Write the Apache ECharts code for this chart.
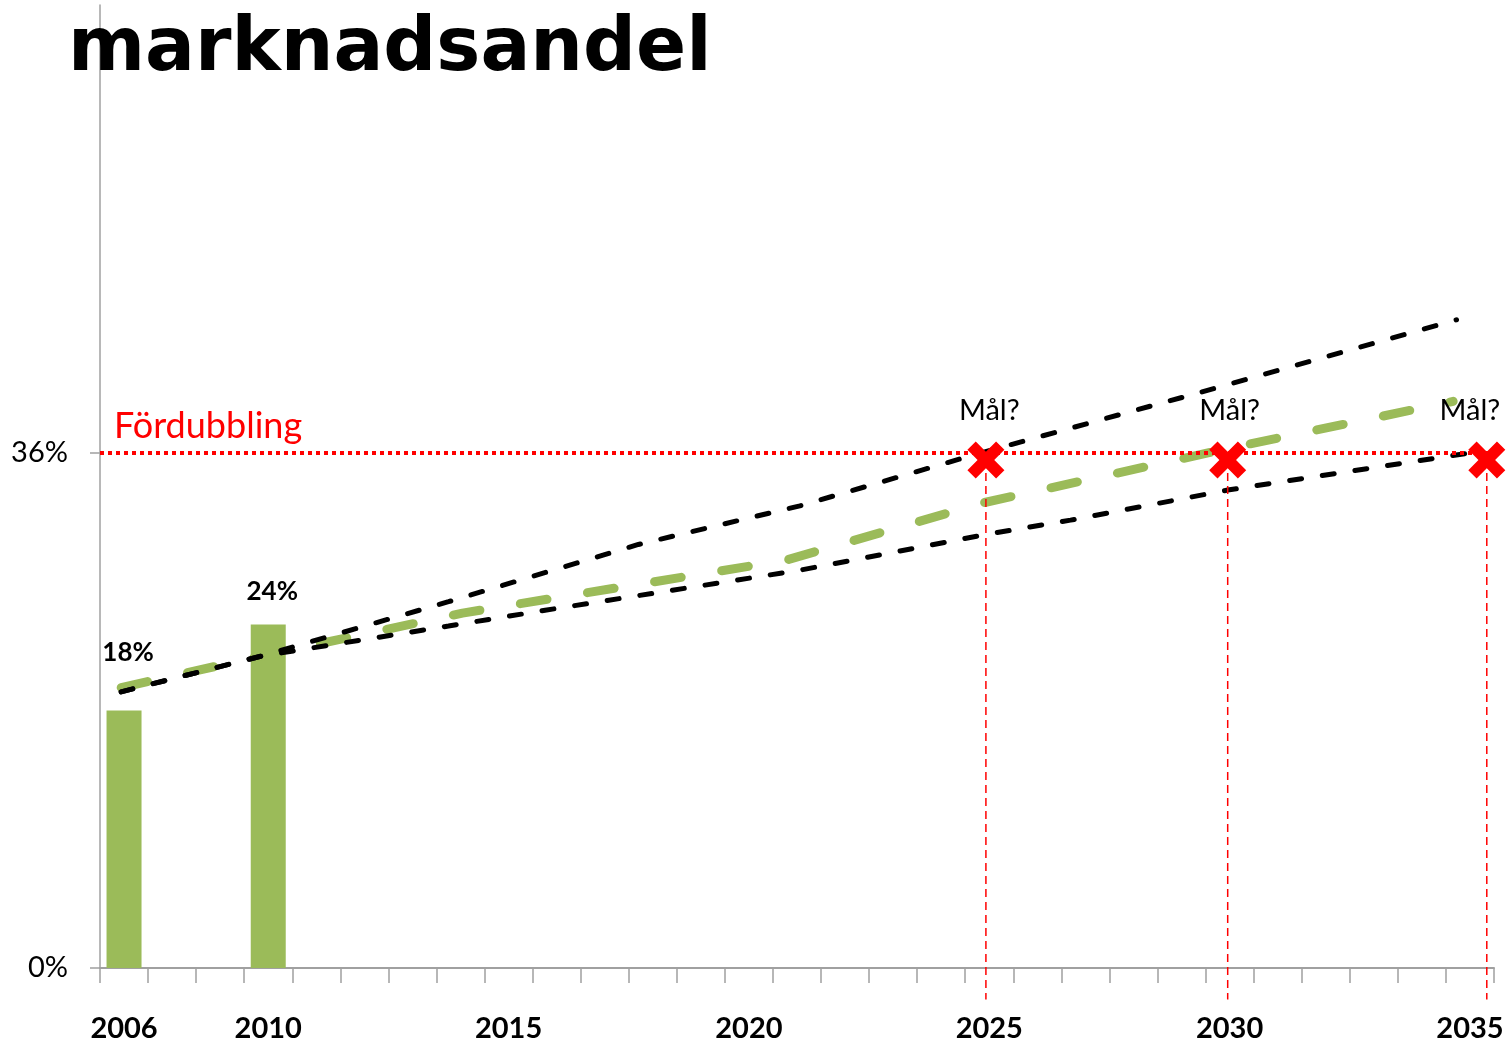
<!DOCTYPE html>
<html>
<head>
<meta charset="utf-8">
<title>marknadsandel</title>
<script src="https://cdn.jsdelivr.net/npm/echarts@6/dist/echarts.min.js"></script>
<style>
  html, body { margin: 0; padding: 0; background: #fff; }
  #chart { width: 1509px; height: 1045px; }
</style>
</head>
<body>
<div id="chart"></div>
<script>
// kategorier på x-axeln (tomma = ingen etikett)
var years = ['2006', '', '', '2010', '2011', '2012', '2013', '2014', '2015', '2016',
    '2017', '2018', '2019', '2020', '2021', '2022', '2023', '2024', '2025', '2026',
    '2027', '2028', '2029', '2030', '2031', '2032', '2033', '2034', '2035'];
var shownYears = ['2006', '2010', '2015', '2020', '2025', '2030', '2035'];
var yTicks = [0, 36];

// staplar: marknadsandel i procent
var shareValues = [18, null, null, 24];

// mål
var targetShare = 36;
var goalYears = ['2025', '2030', '2035'];
var goalPos = [17.93, 22.96, 28.35];   // position på kategoriaxeln (index)
var goalMarkValue = 35.5;
var goalLineBottom = -2.2;

// trendlinjer [index, procent]
var upperTrend = [[-0.06, 19.3], [2.86, 21.8], [6.75, 25.6], [10.7, 29.6], [14.06, 32.3],
    [17.72, 35.9], [22.36, 40.2], [27.72, 45.3]];
var middleTrend = [[-0.06, 19.6], [2.86, 21.8], [7.04, 24.8], [13.77, 28.5], [17.86, 32.5],
    [22.96, 36.3], [27.65, 39.6]];
var lowerTrend = [[-0.06, 19.3], [2.86, 21.8], [6.75, 23.9], [8.76, 25.0], [14.06, 27.8],
    [17.94, 30.3], [19.69, 31.3], [22.96, 33.4], [28.2, 36.1]];

var labelGap = [45, 0, 0, 20];

var xMark = 'path://M4.5,0 L10,5.5 L15.5,0 L20,4.5 L14.5,10 L20,15.5 L15.5,20 L10,14.5 L4.5,20 L0,15.5 L5.5,10 L0,4.5 Z';

var chart = echarts.init(document.getElementById('chart'));

var barData = shareValues.map(function (v, i) {
    if (v == null) return null;
    return { value: v, label: { distance: labelGap[i] } };
});

var trendStyle = { smooth: false, symbol: 'none', xAxisIndex: 1, type: 'line' };

var series = [
    {
        name: 'andel',
        type: 'bar',
        data: barData,
        barWidth: 35,
        itemStyle: { color: '#9bbb59' },
        label: {
            show: true,
            position: 'top',
            offset: [4, 0],
            formatter: '{c}%',
            fontFamily: 'Lato',
            fontWeight: 'bold',
            fontSize: 26,
            color: '#000'
        },
        markLine: {
            silent: true,
            symbol: 'none',
            data: [{ yAxis: targetShare }],
            lineStyle: { color: '#ff0000', type: [4, 4], width: 4 },
            label: {
                show: true,
                position: 'insideStartTop',
                formatter: 'Fördubbling',
                fontFamily: 'Lato',
                fontSize: 36,
                color: '#ff0000',
                distance: [14, 8]
            }
        }
    },
    Object.assign({
        name: 'övre',
        data: upperTrend,
        lineStyle: { color: '#000', width: 5, type: [12, 21], cap: 'round' },
        z: 4
    }, trendStyle),
    Object.assign({
        name: 'mitt',
        data: middleTrend,
        lineStyle: { color: '#9bbb59', width: 9, type: [27, 41], cap: 'round' },
        z: 3
    }, trendStyle),
    Object.assign({
        name: 'undre',
        data: lowerTrend,
        lineStyle: { color: '#000', width: 5, type: [12, 21], cap: 'round' },
        z: 4
    }, trendStyle),
    {
        name: 'mål-text',
        type: 'scatter',
        data: goalYears.map(function (y) { return [y, targetShare]; }),
        symbolSize: 0,
        itemStyle: { opacity: 1 },
        label: {
            show: true,
            position: 'top',
            distance: 28,
            formatter: 'Mål?',
            fontFamily: 'Lato',
            fontSize: 29,
            color: '#000'
        },
        z: 6
    },
    {
        name: 'mål',
        type: 'scatter',
        xAxisIndex: 1,
        data: goalPos.map(function (p) { return [p, goalMarkValue]; }),
        symbol: xMark,
        symbolSize: 37,
        itemStyle: { color: '#ff0000', opacity: 1 },
        z: 8
    }
];

// röda streckade lodlinjer ner under axeln
goalPos.forEach(function (p) {
    series.push({
        type: 'line',
        xAxisIndex: 1,
        data: [[p, goalMarkValue], [p, goalLineBottom]],
        clip: false,
        symbol: 'none',
        lineStyle: { color: '#ff0000', width: 1.5, type: [8, 5] },
        z: 5
    });
});

var option = {
    backgroundColor: '#fff',
    animation: false,
    title: {
        text: 'marknadsandel',
        left: 68,
        top: 14,
        padding: 0,
        textStyle: {
            fontFamily: 'DejaVu Sans',
            fontWeight: 'bold',
            fontSize: 74,
            color: '#000'
        },
        z: 10
    },
    grid: { left: 100, right: 15, top: 5, bottom: 77, containLabel: false, outerBoundsMode: 'none' },
    xAxis: [
        {
            type: 'category',
            data: years,
            axisLine: { lineStyle: { color: '#a0a0a0', width: 2 } },
            axisTick: { show: true, interval: 0, length: 15, lineStyle: { color: '#a0a0a0', width: 1.5 } },
            axisLabel: {
                interval: 0,
                margin: 46,
                fontFamily: 'Lato',
                fontWeight: 'bold',
                fontSize: 29,
                color: '#000',
                formatter: function (v) { return shownYears.indexOf(v) >= 0 ? v : ''; }
            },
            splitLine: { show: false }
        },
        {
            type: 'value',
            min: -0.5,
            max: 28.5,
            show: false
        }
    ],
    yAxis: {
        type: 'value',
        min: 0,
        max: 67.3,
        interval: 36,
        axisLine: { show: true, onZero: false, lineStyle: { color: '#a0a0a0', width: 1.5 } },
        axisTick: { show: true, length: 10, customValues: yTicks, lineStyle: { color: '#a0a0a0', width: 1.5 } },
        axisLabel: {
            customValues: yTicks,
            formatter: '{value}%',
            margin: 32,
            fontFamily: 'Lato',
            fontSize: 29,
            color: '#000'
        },
        splitLine: { show: false }
    },
    series: series
};

chart.setOption(option);
window.addEventListener('resize', function () {
    chart.resize();
});
</script>
</body>
</html>
